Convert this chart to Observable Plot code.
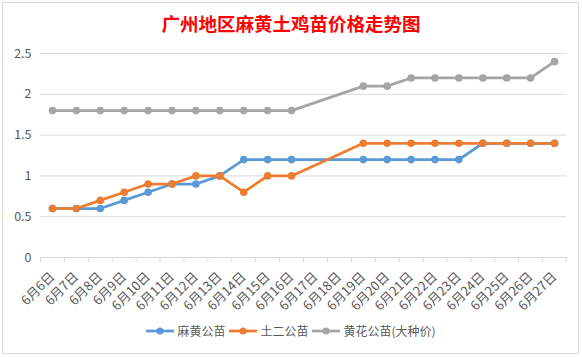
<!DOCTYPE html>
<html><head><meta charset="utf-8">
<script src="https://cdn.jsdelivr.net/npm/d3@7"></script>
<script src="https://cdn.jsdelivr.net/npm/@observablehq/plot@0.6"></script>
<style>
body{margin:0;background:#fff;}
#wrap{position:relative;width:582px;height:357px;overflow:hidden;font-family:"Noto Sans CJK SC",sans-serif;background:#fff;}
#frame{position:absolute;left:2px;top:2px;width:575px;height:350px;border:1px solid #d9d9d9;pointer-events:none;}
#title{position:absolute;left:0;width:582px;top:10px;text-align:center;color:#ff0000;font-size:18.5px;font-weight:bold;line-height:26px;}
#chart{position:absolute;left:0;top:0;}
#legend{position:absolute;left:0;width:582px;top:322px;display:flex;justify-content:center;align-items:center;font-size:12px;color:#595959;line-height:18px;}
#legend .item{display:flex;align-items:center;margin:0 2px;}
#legend svg{margin-right:3px;}
</style>
</head><body>
<div id="wrap">
  <div id="chart"></div>
  <div id="title"></div>
  <div id="legend"></div>
  <div id="frame"></div>
</div>
<script>
const chartTitle = "广州地区麻黄土鸡苗价格走势图";
const dates = ["6月6日","6月7日","6月8日","6月9日","6月10日","6月11日","6月12日","6月13日","6月14日","6月15日","6月16日","6月17日","6月18日","6月19日","6月20日","6月21日","6月22日","6月23日","6月24日","6月25日","6月26日","6月27日"];
const seriesNames = ["麻黄公苗","土二公苗","黄花公苗(大种价)"];
const mahuang  = [0.6,0.6,0.6,0.7,0.8,0.9,0.9,1.0,1.2,1.2,1.2,null,null,1.2,1.2,1.2,1.2,1.2,1.4,1.4,1.4,1.4];
const tuer     = [0.6,0.6,0.7,0.8,0.9,0.9,1.0,1.0,0.8,1.0,1.0,null,null,1.4,1.4,1.4,1.4,1.4,1.4,1.4,1.4,1.4];
const huanghua = [1.8,1.8,1.8,1.8,1.8,1.8,1.8,1.8,1.8,1.8,1.8,null,null,2.1,2.1,2.2,2.2,2.2,2.2,2.2,2.2,2.4];
const yTicks = [0,0.5,1,1.5,2,2.5];
const colors = ["#5B9BD5","#ED7D31","#A5A5A5"];

const seriesValues = [mahuang, tuer, huanghua];
const rows = [];
seriesValues.forEach((vals, s) => {
  vals.forEach((v, i) => { if (v != null) rows.push({date: dates[i], series: seriesNames[s], value: v}); });
});

document.getElementById("title").textContent = chartTitle;

const step = (582 - 40 - 16) / dates.length;

const plot = Plot.plot({
  width: 582,
  height: 357,
  marginLeft: 40,
  marginRight: 16,
  marginTop: 53,
  marginBottom: 100,
  style: {fontFamily: "'Noto Sans CJK SC', sans-serif", fontSize: "12px", background: "transparent"},
  x: {type: "point", domain: dates, padding: 0.5, round: false},
  y: {domain: [0, 2.5]},
  color: {domain: seriesNames, range: colors},
  marks: [
    Plot.gridY(yTicks, {stroke: "#d9d9d9", strokeOpacity: 1, strokeWidth: 1}),
    Plot.axisY(yTicks, {tickSize: 0, tickPadding: 9, tickFormat: d => String(d), fill: "#595959", fontSize: 12.5, label: null}),
    Plot.axisX({tickSize: 0, tickRotate: -45, tickPadding: 17, fill: "#595959", fontSize: 13, label: null}),
    Plot.axisX({tickSize: 5, tickFormat: () => "", dx: -step / 2, stroke: "#d9d9d9", strokeOpacity: 1, label: null}),
    Plot.axisX([dates[dates.length - 1]], {tickSize: 5, tickFormat: () => "", dx: step / 2, stroke: "#d9d9d9", strokeOpacity: 1, label: null}),
    Plot.line(rows, {x: "date", y: "value", z: "series", stroke: "series", strokeWidth: 2.75, curve: "linear"}),
    Plot.dot(rows, {x: "date", y: "value", fill: "series", r: 3.8, stroke: null})
  ]
});
document.getElementById("chart").appendChild(plot);

const legend = document.getElementById("legend");
seriesNames.forEach((name, i) => {
  const item = document.createElement("div");
  item.className = "item";
  item.innerHTML = `<svg width="28" height="10"><line x1="0" y1="5" x2="28" y2="5" stroke="${colors[i]}" stroke-width="2.75"/><circle cx="14" cy="5" r="3.6" fill="${colors[i]}"/></svg><span>${name}</span>`;
  legend.appendChild(item);
});
</script>
</body></html>
